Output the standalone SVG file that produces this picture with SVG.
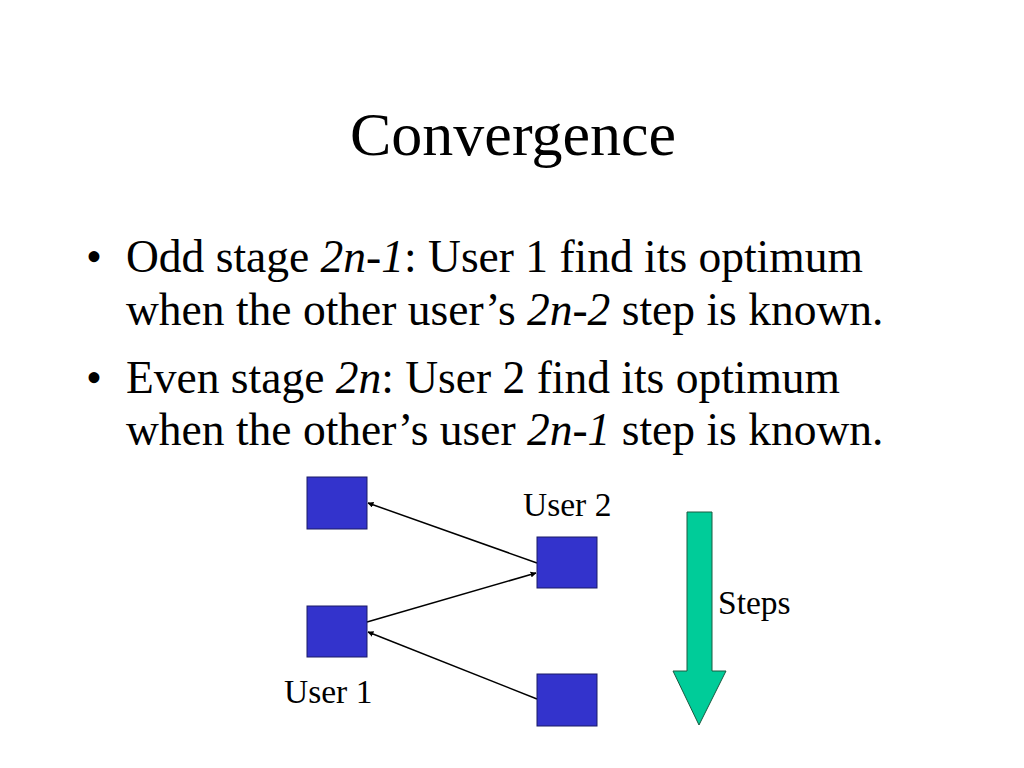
<svg xmlns="http://www.w3.org/2000/svg" width="1024" height="768" viewBox="0 0 1024 768">
<defs>
<style>
.t{font-family:"Liberation Serif","Times New Roman",serif;fill:#000}
.box{fill:#3333CC;stroke:#1a1a66;stroke-width:1}
.con{stroke:#000;stroke-width:1.5;fill:none;marker-end:url(#ah)}
.lbl{font-size:33.5px}
</style>
<marker id="ah" viewBox="0 0 10 10" refX="9" refY="5" markerWidth="6" markerHeight="6" orient="auto" markerUnits="userSpaceOnUse">
<path d="M0,0 L10,5 L0,10 z" fill="#000"/>
</marker>
</defs>
<rect width="1024" height="768" fill="#fff"/>
<text class="t" x="513" y="155" font-size="62" text-anchor="middle">Convergence</text>
<g class="t" font-size="45.5">
<text x="86" y="272">•</text>
<text x="126" y="272">Odd stage <tspan font-style="italic">2n-1</tspan>: User 1 find its optimum</text>
<text x="126" y="325">when the other user’s <tspan font-style="italic">2n-2</tspan> step is known.</text>
<text x="86" y="393">•</text>
<text x="126" y="393">Even stage <tspan font-style="italic">2n</tspan>: User 2 find its optimum</text>
<text x="126" y="445">when the other’s user <tspan font-style="italic">2n-1</tspan> step is known.</text>
</g>
<g id="connectors">
<line class="con" x1="537" y1="563" x2="368" y2="503"/>
<line class="con" x1="367" y1="622" x2="536" y2="573"/>
<line class="con" x1="537" y1="699" x2="368" y2="632"/>
</g>
<g id="n1"><rect class="box" x="307" y="477" width="60" height="52"/></g>
<g id="n2"><rect class="box" x="537" y="537" width="60" height="51"/><text class="t lbl" x="523" y="516">User 2</text></g>
<g id="n3"><rect class="box" x="307" y="606" width="60" height="51"/><text class="t lbl" x="284" y="703">User 1</text></g>
<g id="n4"><rect class="box" x="537" y="674" width="60" height="52"/></g>
<g id="steps">
<path d="M687,512 H712 V671 H726 L699,725 L673,671 H687 Z" fill="#00CC99" stroke="#1a5a40" stroke-width="1"/>
<text class="t lbl" x="718" y="614">Steps</text>
</g>
</svg>
